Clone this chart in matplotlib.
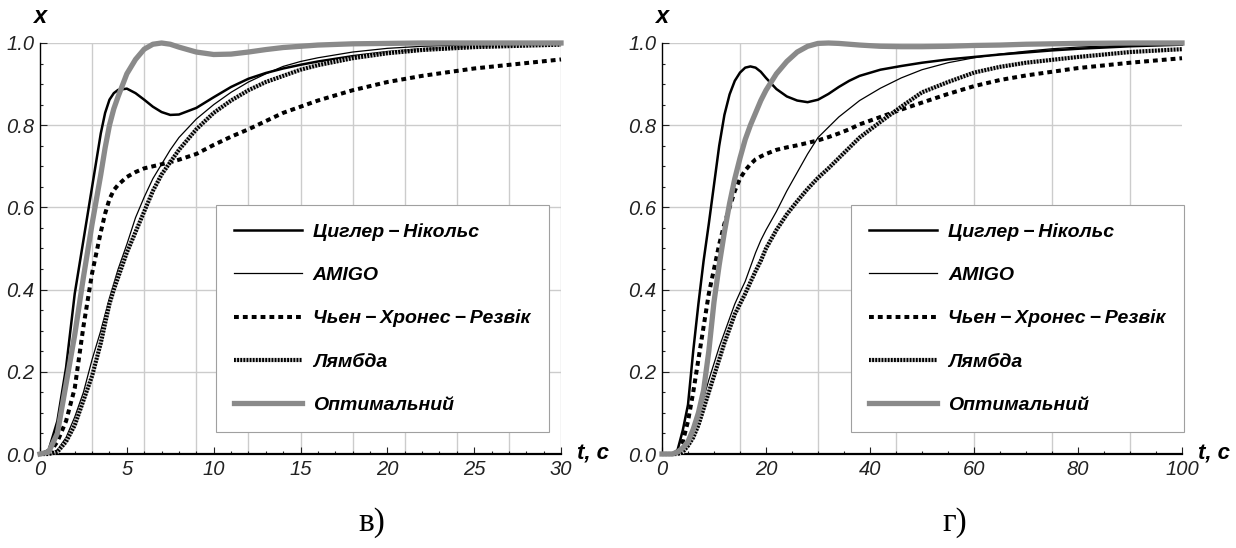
import matplotlib
import matplotlib.pyplot as plt
from matplotlib.ticker import MultipleLocator, FormatStrFormatter
matplotlib.use('Agg')

plt.rcParams['font.family'] = ['Liberation Sans', 'DejaVu Sans']

# --- data ---
names = ['Циглер\u2009−\u2009Нікольс', 'AMIGO', 'Чьен\u2009−\u2009Хронес\u2009−\u2009Резвік',
         'Лямбда', 'Оптимальний']

# panel "в)", t = 0..30 s
t_a = [0, 0.5, 1, 1.5, 2, 2.5, 3, 3.5, 3.75, 4, 4.25, 4.5, 5, 5.5, 6, 6.5, 7,
       7.5, 8, 9, 10, 11, 12, 13, 14, 15, 16, 18, 20, 22, 25, 30]
zn_a = [0, 0.01, 0.08, 0.21, 0.39, 0.52, 0.65, 0.78, 0.83, 0.862, 0.878,
        0.886, 0.889, 0.878, 0.862, 0.845, 0.832, 0.825, 0.826, 0.842, 0.868,
        0.893, 0.913, 0.927, 0.938, 0.947, 0.955, 0.968, 0.978, 0.985, 0.992,
        0.998]
amigo_a = [0, 0, 0.01, 0.04, 0.09, 0.15, 0.23, 0.30, 0.34, 0.38, 0.415, 0.45,
           0.51, 0.575, 0.625, 0.67, 0.705, 0.74, 0.77, 0.815, 0.85, 0.88,
           0.905, 0.925, 0.943, 0.955, 0.964, 0.978, 0.987, 0.992, 0.996,
           0.999]
chr_a = [0, 0, 0.03, 0.08, 0.16, 0.31, 0.44, 0.54, 0.585, 0.62, 0.642, 0.655,
         0.674, 0.686, 0.695, 0.70, 0.705, 0.71, 0.716, 0.73, 0.752, 0.772,
         0.79, 0.81, 0.83, 0.845, 0.86, 0.885, 0.905, 0.92, 0.938, 0.96]
lam_a = [0, 0, 0.005, 0.03, 0.07, 0.13, 0.19, 0.27, 0.318, 0.365, 0.40, 0.43,
         0.49, 0.54, 0.59, 0.64, 0.68, 0.71, 0.74, 0.79, 0.83, 0.86, 0.885,
         0.905, 0.92, 0.935, 0.946, 0.963, 0.975, 0.983, 0.99, 0.996]
opt_a = [0, 0.005, 0.05, 0.17, 0.29, 0.43, 0.56, 0.68, 0.745, 0.80, 0.84,
         0.87, 0.925, 0.96, 0.985, 0.997, 1.0, 0.997, 0.99, 0.978, 0.972,
         0.973, 0.978, 0.984, 0.989, 0.992, 0.995, 0.998, 0.999, 1.0, 1.0, 1.0]

# panel "г)", t = 0..100 s
t_b = [0, 2, 3, 4, 5, 6, 7, 8, 9, 10, 11, 12, 13, 14, 15, 16, 17, 18, 19, 20,
       22, 24, 26, 28, 30, 32, 34, 36, 38, 42, 46, 50, 55, 60, 65, 70, 75, 80,
       90, 100]
zn_b = [0, 0, 0.01, 0.058, 0.12, 0.25, 0.365, 0.47, 0.56, 0.655, 0.75, 0.825,
        0.875, 0.908, 0.928, 0.94, 0.943, 0.94, 0.93, 0.915, 0.888, 0.87,
        0.86, 0.856, 0.862, 0.876, 0.893, 0.908, 0.92, 0.935, 0.944, 0.952,
        0.96, 0.966, 0.972, 0.977, 0.982, 0.986, 0.992, 0.996]
amigo_b = [0, 0, 0, 0.01, 0.03, 0.06, 0.09, 0.135, 0.18, 0.22, 0.26, 0.295,
           0.33, 0.365, 0.393, 0.42, 0.455, 0.49, 0.52, 0.545, 0.59, 0.64,
           0.685, 0.73, 0.77, 0.795, 0.82, 0.84, 0.86, 0.89, 0.915, 0.935,
           0.952, 0.964, 0.973, 0.98, 0.986, 0.99, 0.995, 0.998]
chr_b = [0, 0, 0, 0.03, 0.08, 0.15, 0.23, 0.31, 0.39, 0.45, 0.51, 0.56, 0.60,
         0.64, 0.67, 0.69, 0.705, 0.717, 0.724, 0.73, 0.74, 0.746, 0.751,
         0.757, 0.763, 0.771, 0.78, 0.79, 0.802, 0.82, 0.838, 0.855, 0.876,
         0.895, 0.91, 0.921, 0.93, 0.939, 0.952, 0.963]
lam_b = [0, 0, 0, 0.005, 0.02, 0.04, 0.07, 0.11, 0.15, 0.19, 0.23, 0.27,
         0.305, 0.34, 0.365, 0.39, 0.418, 0.445, 0.47, 0.50, 0.545, 0.583,
         0.615, 0.645, 0.672, 0.695, 0.72, 0.745, 0.77, 0.808, 0.845, 0.88,
         0.905, 0.928, 0.942, 0.952, 0.959, 0.966, 0.978, 0.985]
opt_b = [0, 0, 0.005, 0.015, 0.03, 0.06, 0.1, 0.155, 0.25, 0.37, 0.46, 0.54,
         0.61, 0.67, 0.72, 0.765, 0.80, 0.83, 0.86, 0.885, 0.925, 0.955,
         0.978, 0.992, 0.999, 1.0, 0.999, 0.997, 0.995, 0.992, 0.991, 0.991,
         0.992, 0.994, 0.995, 0.997, 0.998, 0.999, 1.0, 1.0]

styles = [
    dict(color='black', lw=1.8),
    dict(color='black', lw=0.9),
    dict(color='black', lw=2.9, linestyle=(0, (1.2, 1.0)), dash_capstyle='butt'),
    dict(color='black', lw=3.0, linestyle=(0, (0.45, 0.3)), gapcolor='#c8c8c8',
         dash_capstyle='butt'),
    dict(color='#8a8a8a', lw=3.8),
]


def draw(ax, t, series, xmax, grid_step, major, minor, legend_x):
    for x in range(1, 6):
        ax.axhline(x * 0.2, color='#cccccc', lw=1.0, zorder=0)
    g = grid_step
    while g <= xmax + 1e-9:
        ax.axvline(g, color='#cccccc', lw=1.0, zorder=0)
        g += grid_step
    for y, name, st in zip(series, names, styles):
        ax.plot(t, y, label=name, clip_on=False, zorder=3, **st)
    ax.set_xlim(0, xmax)
    ax.set_ylim(0, 1.0)
    for s in ['top', 'right']:
        ax.spines[s].set_visible(False)
    ax.spines['left'].set_linewidth(1.0)
    ax.spines['bottom'].set_linewidth(1.6)
    ax.xaxis.set_major_locator(MultipleLocator(major))
    ax.xaxis.set_minor_locator(MultipleLocator(minor))
    ax.yaxis.set_major_locator(MultipleLocator(0.2))
    ax.yaxis.set_minor_locator(MultipleLocator(0.05))
    ax.yaxis.set_major_formatter(FormatStrFormatter('%.1f'))
    ax.tick_params(which='both', direction='in', labelsize=14.5, colors='#222222',
                   width=0.8)
    ax.tick_params(which='major', length=5, pad=4)
    ax.tick_params(which='minor', length=2.5)
    for lb in ax.get_xticklabels() + ax.get_yticklabels():
        lb.set_fontstyle('italic')
    ax.text(0, 1.065, 'x', transform=ax.transAxes, ha='center', va='center',
            fontsize=17, fontweight='bold', fontstyle='italic')
    ax.text(1.03, 0.0, 't, c', transform=ax.transAxes, ha='left', va='center',
            fontsize=16, fontweight='bold', fontstyle='italic')
    leg = ax.legend(loc='upper left', bbox_to_anchor=(legend_x, 0.607),
                    borderaxespad=0, frameon=True, fancybox=False,
                    edgecolor='#a0a0a0', framealpha=1, handlelength=3.5,
                    handletextpad=0.55, labelspacing=1.32, borderpad=0.95,
                    prop=dict(family=['Liberation Sans', 'DejaVu Sans'],
                              weight='bold', style='italic', size=14))
    leg.get_frame().set_linewidth(0.8)


fig = plt.figure(figsize=(12.36, 5.48), dpi=100)
ax1 = fig.add_axes([40 / 1236, 94 / 548, 521 / 1236, 411 / 548])
ax2 = fig.add_axes([662 / 1236, 94 / 548, 520 / 1236, 411 / 548])

draw(ax1, t_a, [zn_a, amigo_a, chr_a, lam_a, opt_a], 30, 3, 5, 1, 0.337)
draw(ax2, t_b, [zn_b, amigo_b, chr_b, lam_b, opt_b], 100, 15, 20, 5, 0.363)

fig.text(372 / 1236, 1 - 523 / 548, 'в)', ha='center', va='center',
         fontsize=24, family='Liberation Serif')
fig.text(955 / 1236, 1 - 523 / 548, 'г)', ha='center', va='center',
         fontsize=24, family='Liberation Serif')

fig.savefig('out.png', dpi=100)
